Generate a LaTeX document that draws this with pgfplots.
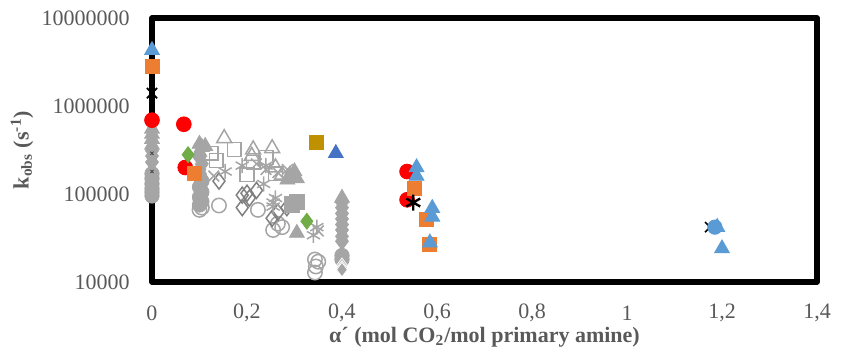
\documentclass[border=0pt]{standalone}
\usepackage{pgfplots}
\pgfplotsset{compat=1.18}
\usepackage{fontspec}
\setmainfont{Liberation Serif}
\definecolor{lblue}{HTML}{5B9BD5}
\definecolor{orng}{HTML}{ED7D31}
\definecolor{gry}{HTML}{A5A5A5}
\definecolor{dgry}{HTML}{808080}
\definecolor{gold}{HTML}{BF9000}
\definecolor{dblue}{HTML}{4472C4}
\definecolor{grn}{HTML}{70AD47}
\definecolor{txt}{HTML}{595959}
\begin{document}
\begin{tikzpicture}
\path[use as bounding box] (-76pt,-37pt) rectangle (344.5pt,141pt);
\begin{axis}[
  at={(0,0)}, anchor=south west,
  scale only axis, width=332.5pt, height=132pt,
  xmin=0, xmax=1.4, ymode=log, ymin=10000, ymax=10000000,
  clip=false,
  axis line style={black, line width=2.6pt, line join=round},
  major tick length=0pt, minor tick num=0,
  xtick={0,0.2,0.4,0.6,0.8,1,1.2,1.4},
  xticklabels={0,{0,2},{0,4},{0,6},{0,8},1,{1,2},{1,4}},
  ytick={10000,100000,1000000,10000000},
  yticklabels={10000,100000,1000000,10000000},
  yminorticks=false,
  tick label style={font=\fontsize{11}{13}\selectfont, text=txt},
  xticklabel style={anchor=center, yshift=-15.5pt},
  yticklabel style={anchor=east, inner sep=0pt, xshift=-11pt},
  label style={font=\fontsize{11}{13}\selectfont\bfseries, text=txt},
  xlabel={α´ (mol CO\textsubscript{2}/mol primary amine)},
  ylabel={k\textsubscript{obs} (s\textsuperscript{-1})},
  xlabel style={at={(axis description cs:0.5,-0.208)}, anchor=center},
  ylabel style={at={(axis description cs:-0.1955,0.5)}, anchor=center},
]
% ---- grey open markers ----
\addplot[only marks, mark=o, mark size=3.6pt, mark options={draw=gry, line width=0.75pt}] coordinates {
 (0.1,6.6e4) (0.105,7.0e4) (0.141,7.4e4) (0.223,6.6e4) (0.255,3.9e4) (0.274,4.2e4) (0.265,4.6e4)
 (0.343,1.8e4) (0.35,1.7e4) (0.345,1.5e4) (0.343,1.28e4)};
\addplot[only marks, mark=diamond, mark size=4pt, mark options={draw=dgry, line width=0.75pt}] coordinates {
 (0.141,1.4e5) (0.19,9.7e4) (0.22,1.1e5) (0.2,1.02e5) (0.205,9.0e4) (0.19,7.0e4) (0.253,5.3e4) (0.284,7.0e4) (0.265,6.2e4)};
\addplot[only marks, mark=square, mark size=3.4pt, mark options={draw=gry, line width=0.75pt}] coordinates {
 (0.173,3.2e5) (0.135,2.4e5) (0.125,2.9e5) (0.213,2.3e5) (0.2,1.65e5) (0.26,1.7e5) (0.24,2.6e5)};
\addplot[only marks, mark=triangle, mark size=4.3pt, mark options={draw=gry, line width=0.75pt}] coordinates {
 (0.152,4.3e5) (0.213,3.2e5) (0.253,3.3e5) (0.21,2.7e5) (0.274,1.65e5) (0.26,2.0e5)};
\addplot[only marks, mark=asterisk, mark size=3.8pt, mark options={draw=gry, line width=0.75pt}] coordinates {
 (0.154,1.8e5) (0.19,2.1e5) (0.24,2.1e5) (0.255,8.0e4) (0.26,9.0e4) (0.255,7.2e4) (0.347,4.2e4) (0.34,3.4e4) (0.235,1.3e5)};
\addplot[only marks, mark=x, mark size=3.8pt, mark options={draw=gry, line width=0.75pt}] coordinates {
 (0.22,2.2e5) (0.24,1.9e5) (0.265,1.75e5) (0.35,3.8e4) (0.13,1.6e5) (0.285,1.9e5)};
% ---- grey filled markers ----
\addplot[only marks, mark=*, mark size=3.6pt, mark options={fill=gry, draw=gry}] coordinates {
 (0,1.7e5) (0,1.5e5) (0,1.3e5) (0,1.15e5) (0,1.05e5) (0,9.5e4)
 (0.1,1.6e5) (0.105,1.4e5) (0.1,1.2e5) (0.105,1.05e5) (0.1,9.2e4) (0.105,8.2e4) (0.1,7.5e4)
 (0.4,2.0e4) (0.4,1.8e4)};
\addplot[only marks, mark=diamond*, mark size=4.3pt, mark options={fill=gry, draw=gry}] coordinates {
 (0,3.1e5) (0,2.7e5) (0,2.3e5) (0.1,2.6e5) (0.105,2.2e5) (0.1,1.9e5)
 (0.4,8.0e4) (0.4,7.0e4) (0.4,6.0e4) (0.4,5.2e4) (0.4,4.5e4) (0.4,3.9e4) (0.4,3.3e4) (0.4,2.9e4)};
\addplot[only marks, mark=diamond*, mark size=3.6pt, mark options={fill=gry, draw=white, line width=0.4pt}] coordinates {
 (0.4,1.55e4) (0.4,1.45e4) (0.4,1.38e4)};
\addplot[only marks, mark=triangle*, mark size=4.3pt, mark options={fill=gry, draw=gry}] coordinates {
 (0,5.5e5) (0,4.8e5) (0,4.2e5) (0,3.6e5) (0.1,3.7e5) (0.105,3.4e5) (0.112,3.5e5) (0.1,3.0e5)
 (0.29,1.65e5) (0.3,1.8e5) (0.305,1.5e5) (0.285,1.45e5) (0.305,3.6e4) (0.4,9.0e4)};
\addplot[only marks, mark=square*, mark size=3.8pt, mark options={fill=gry, draw=gry}] coordinates {
 (0.305,8.2e4) (0.295,7.6e4)};
% ---- coloured series ----
\addplot[only marks, mark=*, mark size=3.7pt, mark options={fill=red, draw=red}] coordinates {
 (0,6.9e5) (0.067,6.2e5) (0.07,2.0e5) (0.537,1.8e5) (0.537,8.6e4)};
\addplot[only marks, mark=diamond*, mark size=4pt, mark options={fill=grn, draw=grn}] coordinates {
 (0.076,2.8e5) (0.326,4.9e4)};
\addplot[only marks, mark=square*, mark size=3.5pt, mark options={fill=orng, draw=orng}] coordinates {
 (0,2.8e6) (0.09,1.7e5) (0.553,1.17e5) (0.578,5.1e4) (0.583,2.7e4)};
\addplot[only marks, mark=square*, mark size=3.5pt, mark options={fill=gold, draw=gold}] coordinates {
 (0.347,3.9e5)};
\addplot[only marks, mark=triangle*, mark size=4.3pt, mark options={fill=dblue, draw=dblue}] coordinates {
 (0.387,2.9e5)};
\addplot[only marks, mark=x, mark size=3.6pt, mark options={draw=black, line width=0.8pt}] coordinates {
 (0,1.4e6) (1.175,4.2e4)};
\addplot[only marks, mark=x, mark size=1.1pt, mark options={draw=black!70, line width=0.5pt}] coordinates {
 (0,2.9e5) (0,1.8e5)};
\addplot[only marks, mark=asterisk, mark size=4pt, mark options={draw=black, line width=1.2pt}] coordinates {
 (0.55,8.0e4)};
\addplot[only marks, mark=*, mark size=3.6pt, mark options={fill=lblue, draw=lblue}] coordinates {
 (1.185,4.2e4)};
\addplot[only marks, mark=triangle*, mark size=4.3pt, mark options={fill=lblue, draw=lblue}] coordinates {
 (0,4.3e6) (0.557,2.0e5) (0.557,1.6e5) (0.59,6.9e4) (0.59,5.5e4) (0.585,2.8e4) (1.19,4.2e4) (1.2,2.4e4)};
\end{axis}
\end{tikzpicture}
\end{document}
